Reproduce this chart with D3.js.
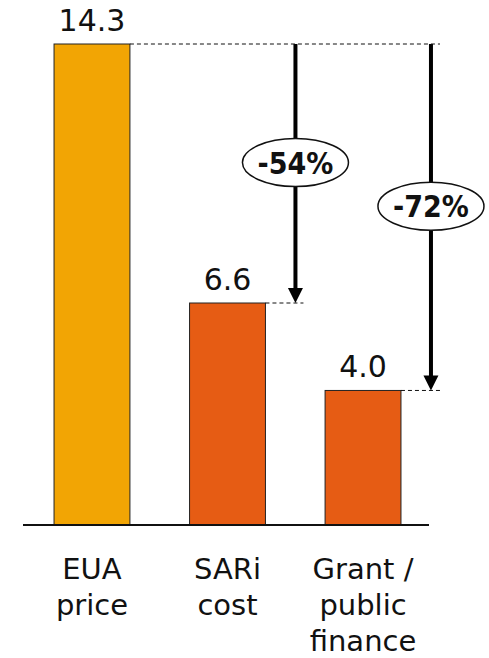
<!DOCTYPE html>
<html>
<head>
<meta charset="utf-8">
<script src="https://cdn.jsdelivr.net/npm/d3@7"></script>
<style>
  html, body { margin: 0; padding: 0; background: #ffffff; }
  svg { display: block; }
  text { font-family: "DejaVu Sans", Verdana, sans-serif; fill: #111; }
</style>
</head>
<body>
<svg id="chart" width="489" height="658"></svg>
<script>
// Cost comparison data
const categories = ["EUA price", "SARi cost", "Grant / public finance"];
const labelLines = [["EUA", "price"], ["SARi", "cost"], ["Grant /", "public", "finance"]];
const values = [14.3, 6.6, 4.0];
const barColors = ["#F2A504", "#E65C14", "#E65C14"];

const svg = d3.select("#chart");
const baseY = 525;

const x = d3.scaleBand()
  .domain(categories)
  .range([23, 432])
  .paddingInner(0.44)
  .paddingOuter(0.229);

const y = d3.scaleLinear()
  .domain([0, 14.3])
  .range([baseY, 44]);

const bw = x.bandwidth();

// bars
svg.selectAll("rect.bar")
  .data(categories)
  .join("rect")
  .attr("class", "bar")
  .attr("x", d => x(d))
  .attr("y", (d, i) => y(values[i]))
  .attr("width", bw)
  .attr("height", (d, i) => baseY - y(values[i]))
  .attr("fill", (d, i) => barColors[i])
  .attr("stroke", "#222")
  .attr("stroke-width", 1);

// value labels
svg.selectAll("text.val")
  .data(categories)
  .join("text")
  .attr("class", "val")
  .attr("x", d => x(d) + bw / 2)
  .attr("y", (d, i) => y(values[i]) - 13)
  .attr("text-anchor", "middle")
  .style("font-size", "30px")
  .text((d, i) => values[i].toFixed(1));

// baseline axis
svg.append("line")
  .attr("x1", x.range()[0]).attr("x2", 429)
  .attr("y1", baseY).attr("y2", baseY)
  .attr("stroke", "#111").attr("stroke-width", 2);

// category labels
categories.forEach((c, i) => {
  const t = svg.append("text")
    .attr("text-anchor", "middle")
    .style("font-size", "29px");
  labelLines[i].forEach((ln, j) => {
    t.append("tspan")
      .attr("x", x(c) + bw / 2)
      .attr("y", 579 + j * 36)
      .text(ln);
  });
});

// reduction arrows from the EUA price to each cheaper option
const topY = y(values[0]);
const ref = values[0];
[1, 2].forEach(i => {
  const c = categories[i];
  const ax = x(c) + bw + 30;
  const tipY = y(values[i]);
  const dashEnd = i === 1 ? ax + 8 : ax + 9;

  // dashed guide at the bar's value
  svg.append("line")
    .attr("x1", x(c) + bw).attr("x2", dashEnd)
    .attr("y1", tipY).attr("y2", tipY)
    .attr("stroke", "#111").attr("stroke-width", 1)
    .attr("stroke-dasharray", "4,3");

  // shaft
  svg.append("line")
    .attr("x1", ax).attr("x2", ax)
    .attr("y1", topY).attr("y2", tipY - 14)
    .attr("stroke", "#000").attr("stroke-width", 4);

  // head
  svg.append("path")
    .attr("d", `M${ax - 7.5},${tipY - 15} L${ax + 7.5},${tipY - 15} L${ax},${tipY} Z`)
    .attr("fill", "#000");

  // percent badge
  const cy = (topY + tipY) / 2 - 11;
  const pct = Math.round((values[i] / ref - 1) * 100);
  svg.append("ellipse")
    .attr("cx", ax).attr("cy", cy)
    .attr("rx", 53).attr("ry", 24)
    .attr("fill", "#fff").attr("stroke", "#111").attr("stroke-width", 1.5);
  svg.append("text")
    .attr("x", ax).attr("y", cy + 11)
    .attr("text-anchor", "middle")
    .style("font-family", "'DejaVu Sans Condensed', 'DejaVu Sans', sans-serif")
    .style("font-weight", "bold")
    .style("font-size", "30px")
    .text(`${pct}%`);
});

// dashed guide across the top at the EUA price
svg.append("line")
  .attr("x1", x(categories[0]) + bw).attr("x2", 440)
  .attr("y1", topY).attr("y2", topY)
  .attr("stroke", "#111").attr("stroke-width", 1)
  .attr("stroke-dasharray", "4,3");
</script>
</body>
</html>
